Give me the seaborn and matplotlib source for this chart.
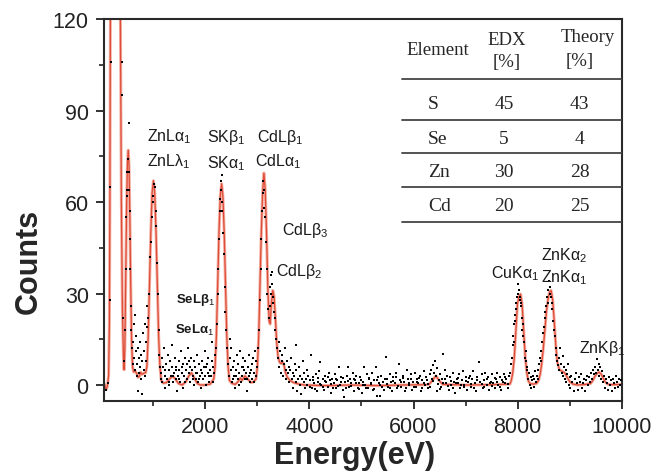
import pandas as pd
import seaborn as sns
import matplotlib.pyplot as plt

# Fitted spectrum (energy in eV, counts)
line_energy = [62, 80, 100, 125, 150, 165, 175, 185, 230, 280, 330, 375, 395, 415, 435, 448, 462, 478, 495, 512,
               527, 542, 558, 575, 592, 610, 630, 660, 690, 715, 740, 765, 790, 820, 850, 860, 885, 910, 935, 960,
               985, 1010, 1035, 1060, 1085, 1110, 1135, 1160, 1200, 1260, 1320, 1380, 1430, 1490, 1560, 1630, 1690, 1740, 1790, 1850,
               1910, 2000, 2100, 2168, 2193, 2218, 2243, 2268, 2293, 2318, 2343, 2368, 2393, 2418, 2443, 2468, 2520, 2580, 2630, 2680,
               2710, 2765, 2820, 2880, 2930, 2980, 3005, 3030, 3055, 3080, 3105, 3130, 3155, 3180, 3205, 3230, 3250, 3275, 3300, 3325,
               3350, 3375, 3400, 3430, 3460, 3490, 3515, 3545, 3580, 3630, 3700, 3800, 3900, 4300, 4800, 5300, 5800, 6250, 6300, 6360,
               6430, 6490, 6560, 7000, 7500, 7850, 7874, 7904, 7934, 7964, 7994, 8024, 8054, 8084, 8114, 8144, 8174, 8204, 8240, 8300,
               8361, 8400, 8430, 8460, 8490, 8520, 8550, 8580, 8610, 8640, 8670, 8700, 8730, 8760, 8800, 8850, 8900, 8950, 9000, 9060,
               9150, 9300, 9400, 9440, 9480, 9520, 9560, 9600, 9640, 9680, 9720, 9800, 10000]
line_counts = [0.5, 0, -1.5, -0.5, 3, 20, 60, 125, 300, 360, 300, 125, 60, 25, 9, 5, 12, 35, 58, 73,
               77, 72, 55, 32, 14, 6, 4.3, 4.5, 3.8, 2.5, 2.8, 4.2, 3.5, 3.8, 4, 4, 6, 16, 33, 50,
               63, 67, 63, 50, 33, 16, 6, 1.5, 0.6, 0.8, 2, 2.9, 2, 0.5, 0, 1, 3, 4, 2.5, 0.5,
               0, 0, 0.3, 2, 6, 16, 33, 50, 62, 66, 62, 50, 33, 16, 6, 1.5, 0.5, 0.2, 1, 2.3,
               1.5, 3, 2, 0.8, 1, 2, 6, 16, 33, 50, 63, 69.5, 64, 50, 32, 21, 20, 27, 31, 29,
               22, 14, 9.5, 7.5, 7, 7.5, 6.5, 4, 2.5, 1.5, 0.8, 0.3, 0, -0.2, 0, -0.2, 0, 0.1, 0.2, 1.5,
               3.0, 1.5, 0.2, 0, 0.1, 0.3, 1.3, 4, 9, 18, 26.5, 29, 29.8, 26.5, 18, 9, 4, 1.3, 0.4, 0.3,
               0.5, 1.5, 3.5, 7, 12, 18, 24, 28, 30.5, 31, 28, 21, 13, 7.5, 5, 4.5, 4, 2.5, 1, 0.3,
               0, 0.2, 0.5, 1.5, 2.8, 3.8, 4.2, 3.6, 2.2, 1, 0.3, 0.1, 0.2]

# Measured points (energy, counts), grouped by region
dots_c_o = [(95, -1.5), (130, 0.5), (172, 28), (180, 65), (190, 106), (398, 106), (405, 95), (430, 22), (450, 8),
            (470, 18), (480, 38), (490, 55), (500, 62), (505, 70), (512, 64), (520, 74), (533, 86), (538, 70),
            (545, 64), (552, 57), (560, 48), (570, 38), (578, 26), (588, 18), (598, 12), (610, 14), (620, 7),
            (628, 20), (640, 9), (650, 23), (660, 5), (668, 11), (680, 16), (690, 3), (700, 7), (710, 12),
            (720, -2), (730, 9), (740, 4), (750, 14), (760, 6), (770, 2), (780, 10), (790, -3), (800, 8),
            (810, 17), (820, 5), (830, 11), (840, 3), (850, 20), (860, 8), (870, 14), (880, 26), (890, 19)]
dots_znl = [(910, 22), (930, 30), (950, 42), (965, 47), (980, 55), (995, 60), (1010, 62), (1020, 66), (1035, 65),
            (1050, 57), (1065, 52), (1080, 40), (1095, 30), (1110, 18), (1125, 10), (1140, 6)]
dots_se = [(1150, 4), (1165, 9), (1180, 1), (1195, 6), (1210, 12), (1225, 3), (1240, -1), (1255, 7), (1270, 2),
           (1285, 10), (1300, 5), (1315, 0), (1330, 8), (1345, 3), (1360, 6), (1375, 13), (1390, 1), (1405, 4),
           (1420, 9), (1435, 2), (1450, 6), (1465, -2), (1480, 3), (1495, 8), (1510, 5), (1525, 1), (1540, 11),
           (1555, 4), (1570, 7), (1585, -1), (1600, 3), (1615, 9), (1630, 5), (1645, 2), (1660, 7), (1675, 12),
           (1690, 4), (1705, 6), (1720, 1), (1735, 9), (1750, 5), (1765, 3), (1780, 8), (1795, 0), (1810, 6),
           (1825, 2), (1840, 10), (1855, 4), (1870, 1), (1885, 7), (1900, 3), (1915, 5), (1930, -1), (1945, 8),
           (1960, 2), (1975, 6), (1990, 11), (2005, 3), (2020, 0), (2035, 7), (2050, 4), (2065, 9), (2080, 1),
           (2095, 5), (2110, 3), (2125, 8), (2140, 14), (2155, 6), (2170, 4), (2190, 10),
           (1160, 2), (1230, 5), (1300, 1), (1380, 3), (1440, 5), (1500, 2), (1560, 6), (1620, 1), (1690, 8),
           (1760, 2), (1820, 4), (1880, 2), (1950, 4), (2010, 6), (2080, 3), (2150, 1)]
dots_sk = [(2210, 12), (2225, 20), (2240, 30), (2255, 38), (2270, 48), (2285, 57), (2295, 61), (2305, 64),
           (2315, 67), (2318, 69), (2325, 60), (2335, 57), (2345, 50), (2360, 43), (2375, 32), (2390, 24),
           (2405, 18), (2420, 12), (2440, 7)]
dots_sk_cd = [(2460, 3), (2475, 9), (2490, 5), (2505, 12), (2520, 1), (2535, 6), (2550, 3), (2565, 8), (2580, -1),
              (2595, 5), (2610, 10), (2625, 2), (2640, 7), (2655, 4), (2670, 11), (2685, 1), (2700, 6), (2715, 3),
              (2730, 9), (2745, 5), (2760, 2), (2775, 8), (2790, 4), (2805, -2), (2820, 6), (2835, 3), (2850, 10),
              (2865, 1), (2880, 5), (2895, 7), (2910, 2), (2925, 9), (2940, 4), (2955, 11), (2970, 3), (2985, 8),
              (3000, 6), (2480, 15), (2530, 2), (2600, 3), (2660, 0), (2720, 6), (2800, 2), (2870, 4), (2940, 1)]
dots_cdl = [(3020, 12), (3035, 18), (3050, 28), (3065, 38), (3080, 48), (3095, 57), (3110, 63), (3120, 67),
            (3130, 64), (3140, 58), (3150, 55), (3165, 47), (3180, 38), (3195, 30), (3210, 25), (3225, 22),
            (3240, 26), (3255, 32), (3265, 30), (3275, 36), (3280, 37), (3285, 33), (3295, 27), (3310, 29),
            (3320, 24), (3335, 22), (3350, 18), (3365, 15), (3380, 12)]
dots_cd_tail = [(3395, 9), (3410, 14), (3425, 6), (3440, 11), (3455, 4), (3470, 8), (3485, 10), (3500, 3),
                (3515, 7), (3530, 12), (3545, 5), (3560, 2), (3575, 8), (3590, 4), (3605, 6), (3620, 1),
                (3635, 5), (3650, 9), (3665, 2), (3680, 4), (3695, -1), (3710, 3), (3725, 7), (3740, 1),
                (3750, 13), (3755, 5), (3770, -2), (3785, 2), (3800, 6), (3815, 0), (3830, 3), (3845, -3),
                (3860, 2), (3875, 8), (3890, 1), (3905, 4), (3920, -1), (3935, 2), (3950, 5), (3965, 0), (3980, 3)]
dots_flat = [(4010, 1.5), (4040, 10), (4055, -1), (4080, 2.5), (4100, 0.5), (4125, 3.5), (4150, -2), (4170, 1),
             (4195, 4.5), (4210, 7.5), (4230, 0), (4255, 2), (4280, -1.5), (4300, 3), (4325, 1), (4350, -0.5),
             (4370, 4), (4395, 1.5), (4420, -2.5), (4445, 2), (4470, 0.5), (4490, 3.5), (4515, -1), (4540, 1.5),
             (4570, 5.9), (4590, 0), (4615, 2.5), (4640, -1.5), (4670, -4), (4690, 1), (4715, 3), (4740, 5.9),
             (4760, -0.5), (4785, 2), (4810, 0.5), (4835, 4), (4860, -2), (4880, 1.5), (4905, 3), (4930, -1),
             (4955, 0.5), (4980, 2.5), (5005, -2.5), (5030, 1), (5050, 5.9), (5075, 0), (5100, 3.5), (5125, -1),
             (5150, 2), (5175, 0.5), (5200, 4), (5225, -1.5), (5250, 1.5), (5280, 6), (5300, -3.6), (5325, 2.5),
             (5350, 0), (5360, -3.5), (5385, 3), (5410, 1), (5435, -1.5), (5470, 9.2), (5490, 2), (5515, -0.5),
             (5540, 3.5), (5565, 1), (5590, -2), (5615, 2.5), (5640, 0.5), (5665, 4), (5690, -1), (5715, 6.9),
             (5740, 1.5), (5765, -0.5), (5790, 3), (5815, 1), (5840, -2), (5870, 5), (5895, 2), (5920, 0),
             (5945, 3.5), (5970, -1.5), (5995, 1), (6020, 4), (6045, -0.5), (6070, 2), (6095, 0.5), (6120, 3),
             (6145, -2), (6170, 1.5), (6195, 4.5), (6220, 0), (6245, 2.5),
             (4020, -0.5), (4065, 1.8), (4110, -1.2), (4160, 2.2), (4205, 0.3), (4260, -0.8), (4310, 1.2),
             (4360, 2.6), (4410, 0.2), (4460, -1), (4505, 1.9), (4555, -0.3), (4605, 0.9), (4655, 2.4),
             (4705, -1.1), (4750, 1.3), (4800, -0.2), (4850, 2.1), (4895, 0.6), (4945, -1.3), (4995, 1.7),
             (5040, 0.1), (5090, -0.9), (5140, 2.3), (5190, 0.4), (5240, -1.2), (5290, 1.6), (5340, 0.8),
             (5395, -0.7), (5450, 2), (5500, 0.2), (5555, -1), (5605, 1.4), (5655, 2.7), (5705, -0.4),
             (5755, 0.9), (5805, 2.2), (5855, -1.1), (5905, 0.7), (5960, 1.9), (6010, -0.6), (6060, 1.1),
             (6110, 2.4), (6160, -0.9), (6210, 0.5)]
dots_fe = [(6260, 1.5), (6285, -1), (6310, 3.5), (6335, 5), (6360, 2), (6380, 6.5), (6400, 4), (6420, 7.9),
           (6440, 3), (6445, -2), (6460, 5.5), (6480, 1.5), (6500, 3.5), (6525, -0.5), (6550, 2), (6570, 10.2),
           (6600, 5), (6620, 0.5), (6650, 3), (6675, -1.5), (6700, 2.5), (6725, 0), (6750, 4), (6775, 1),
           (6800, -2.6), (6825, 2), (6850, 0.5), (6875, 3.5), (6900, -1), (6925, 1.5), (6950, 4.5), (6975, 0),
           (7000, 2.5), (7025, -1.5), (7050, 1), (7075, 3), (7100, -0.5), (7125, 2), (7150, 4.5), (7175, 0.5),
           (7200, -2), (7225, 2.5), (7260, 7.5), (7280, 1), (7305, 3.5), (7330, -1), (7355, 1.5), (7380, 4),
           (7405, 0), (7430, 2.5), (7455, -1.5), (7480, 1), (7505, 3.5), (7530, 0.5), (7555, -1), (7580, 2),
           (7605, 4), (7630, 0), (7655, 2.5), (7680, -1.5), (7705, 1.5), (7730, 3.5), (7755, 0.5), (7780, 2),
           (7805, -1), (7830, 3),
           (6270, 0.4), (6320, -0.6), (6370, 1.2), (6470, 0.2), (6510, -1.3), (6560, 0.8), (6610, 2.1),
           (6660, -0.3), (6710, 1.4), (6760, -0.9), (6810, 0.6), (6860, 2.2), (6910, 0.1), (6960, -0.7),
           (7010, 1.3), (7060, 2.4), (7110, 0.3), (7160, -1.1), (7210, 1.6), (7310, 0.4), (7360, -0.8),
           (7410, 1.9), (7460, 0.7), (7510, -0.4), (7560, 2.3), (7610, 0.9), (7660, -0.6), (7710, 1.1),
           (7760, 2.6), (7810, 0.2)]
dots_cuk = [(7855, 4), (7870, 7), (7885, 9), (7900, 13), (7915, 16), (7930, 20), (7945, 21), (7960, 25),
            (7975, 27), (7985, 29), (8000, 33), (8010, 30), (8020, 31), (8035, 28), (8045, 29), (8055, 26),
            (8065, 27), (8080, 22), (8095, 20), (8110, 16), (8125, 14), (8140, 9), (8155, 8), (8170, 5),
            (8185, 6), (8200, 2), (8215, 4), (8230, 0), (8245, 2.5), (8260, -1), (8275, 1.5), (8290, 3),
            (8305, -0.5), (8320, 2), (8335, 4.5), (8350, 1), (7920, 14), (7955, 23), (8090, 18), (8150, 11)]
dots_znk = [(8365, 3), (8380, 5), (8395, 2), (8410, 7), (8425, 9), (8440, 8), (8455, 11), (8470, 14),
            (8485, 17), (8500, 19), (8515, 22), (8530, 24), (8545, 26), (8560, 29), (8575, 27), (8590, 31),
            (8600, 34), (8610, 30), (8620, 32), (8635, 29), (8650, 27), (8665, 25), (8680, 21), (8695, 18),
            (8710, 16), (8725, 12), (8740, 10), (8755, 8), (8770, 6.5), (8785, 9), (8800, 5)]
dots_tail = [(8815, 12), (8830, 7), (8845, 4), (8860, 9.5), (8875, 3), (8890, 6), (8905, 2), (8920, 5),
             (8935, 1), (8950, 3.5), (8965, 7), (8980, 0), (8995, 2.5), (9010, -1), (9030, 3), (9050, 1),
             (9070, -2), (9090, 2), (9110, 4), (9130, 0.5), (9150, -1.5), (9170, 2.5), (9190, 1), (9210, 3.5),
             (9230, -1), (9250, 0.5), (9270, 2), (9290, -2), (9310, 1.5), (9330, 3), (9350, 0), (9370, 2.5),
             (9390, 1), (9410, 4), (9430, 2), (9450, 5), (9470, 3.5), (9490, 6), (9505, 4), (9520, 8.5),
             (9535, 5), (9550, 7), (9565, 3), (9580, 6), (9595, 2), (9610, 4.5), (9630, 1), (9650, 3),
             (9670, -1), (9690, 2), (9710, 0.5), (9730, -1.5), (9750, 2.5), (9770, 0), (9790, 1.5), (9810, -2),
             (9830, 2), (9850, 0.5), (9870, -1), (9890, 3), (9910, 1), (9930, -0.5), (9950, 2), (9970, 0),
             (9990, 1.5)]

# Composition table
elements = ['S', 'Se', 'Zn', 'Cd']
edx_pct = [45, 5, 30, 20]
theory_pct = [43, 4, 28, 25]

# Peak labels: (text, energy, counts, fontsize, bold)
peak_labels = [
    (r'ZnL$\alpha_1$', 895, 80.1, 11.5, False), (r'ZnL$\lambda_1$', 895, 71.9, 11.5, False),
    (r'SK$\beta_1$', 2035, 80.1, 11.5, False), (r'SK$\alpha_1$', 2035, 71.5, 11.5, False),
    (r'CdL$\beta_1$', 2990, 80.1, 11.5, False), (r'CdL$\alpha_1$', 2950, 71.9, 11.5, False),
    (r'CdL$\beta_3$', 3480, 49.5, 11.5, False), (r'CdL$\beta_2$', 3366, 36.0, 11.5, False),
    (r'SeL$\beta_1$', 1448, 27.1, 9.5, True), (r'SeL$\alpha_1$', 1430, 17.0, 9.5, True),
    (r'CuK$\alpha_1$', 7487, 35.3, 11.5, False), (r'ZnK$\alpha_2$', 8440, 41.1, 11.5, False),
    (r'ZnK$\alpha_1$', 8440, 33.9, 11.5, False), (r'ZnK$\beta_1$', 9180, 10.7, 11.5, False),
]

sns.set_style("ticks")
plt.rcParams['font.family'] = ['Liberation Sans', 'DejaVu Sans']
plt.rcParams['mathtext.fontset'] = 'custom'
plt.rcParams['mathtext.rm'] = 'Liberation Sans'
plt.rcParams['mathtext.it'] = 'Liberation Sans'
plt.rcParams['mathtext.bf'] = 'Liberation Sans:bold'

fig = plt.figure(figsize=(6.55, 4.77), dpi=100)
ax = fig.add_axes([0.1588, 0.1572, 0.7908, 0.8008])

dots = pd.DataFrame(dots_c_o + dots_znl + dots_se + dots_sk + dots_sk_cd + dots_cdl + dots_cd_tail
                    + dots_flat + dots_fe + dots_cuk + dots_znk + dots_tail, columns=['energy', 'counts'])
spectrum = pd.DataFrame({'energy': line_energy, 'counts': line_counts})

sns.lineplot(data=spectrum, x='energy', y='counts', color='#f3b2a6', linewidth=2.2, estimator=None, ax=ax)
sns.lineplot(data=spectrum, x='energy', y='counts', color='#de4b36', linewidth=0.9, estimator=None, ax=ax)
sns.scatterplot(data=dots, x='energy', y='counts', color='black', s=2.5, marker='s', linewidth=0, ax=ax, zorder=3)

ax.set_xlim(62, 10000)
ax.set_ylim(-5.25, 120)
ax.set_xticks([2000, 4000, 6000, 8000, 10000])
ax.set_xticks([1000, 3000, 5000, 7000, 9000], minor=True)
ax.set_yticks([0, 30, 60, 90, 120])
ax.set_yticks([15, 45, 75, 105], minor=True)
ax.tick_params(which='major', direction='out', length=6, width=1.3, labelsize=15.5, pad=5, colors='#222222')
ax.tick_params(which='minor', direction='out', length=3.5, width=1.2, colors='#222222')
ax.tick_params(top=False, right=False)
for sp in ax.spines.values():
    sp.set_visible(True)
    sp.set_linewidth(1.5)
    sp.set_color('#2a2a2a')
ax.set_xlabel('')
ax.set_ylabel('')

fig.text(0.044, 0.451, 'Counts', rotation=90, fontsize=22, fontweight='bold', ha='center', va='center')
fig.text(0.542, 0.043, 'Energy(eV)', fontsize=22, fontweight='bold', ha='center', va='center')

for txt, e, c, fs, bold in peak_labels:
    if bold:
        txt = txt.replace('$', '$\\mathbf{', 1).replace('_1$', '}_1$').replace('_2$', '}_2$')
    ax.text(e, c, txt, fontsize=fs, fontweight='bold' if bold else 'normal', ha='left', va='baseline',
            color='#1a1a1a', clip_on=False)

# Composition table in the upper right corner
serif = ['Liberation Serif', 'DejaVu Serif']
for yy in [0.843, 0.7356, 0.6492, 0.5602, 0.4686]:
    ax.plot([0.575, 1.0], [yy, yy], transform=ax.transAxes, color='#444444', linewidth=1.3, zorder=4)
ax.text(0.583, 0.9196, 'Element', transform=ax.transAxes, family=serif, fontsize=13.5, ha='left', va='center')
ax.text(0.778, 0.9476, 'EDX', transform=ax.transAxes, family=serif, fontsize=13.5, ha='center', va='center')
ax.text(0.778, 0.890, '[%]', transform=ax.transAxes, family=serif, fontsize=13.5, ha='center', va='center')
ax.text(0.9344, 0.953, 'Theory', transform=ax.transAxes, family=serif, fontsize=13.5, ha='center', va='center')
ax.text(0.919, 0.891, '[%]', transform=ax.transAxes, family=serif, fontsize=13.5, ha='center', va='center')
row_y = [0.780, 0.688, 0.600, 0.511]
for el, ed, th, yy in zip(elements, edx_pct, theory_pct, row_y):
    ax.text(0.6255, yy, el, transform=ax.transAxes, family=serif, fontsize=14, ha='left', va='center')
    ax.text(0.772, yy, str(ed), transform=ax.transAxes, family=serif, fontsize=14, ha='center', va='center')
    ax.text(0.918, yy, str(th), transform=ax.transAxes, family=serif, fontsize=14, ha='center', va='center')

fig.savefig('out.png', dpi=100)
